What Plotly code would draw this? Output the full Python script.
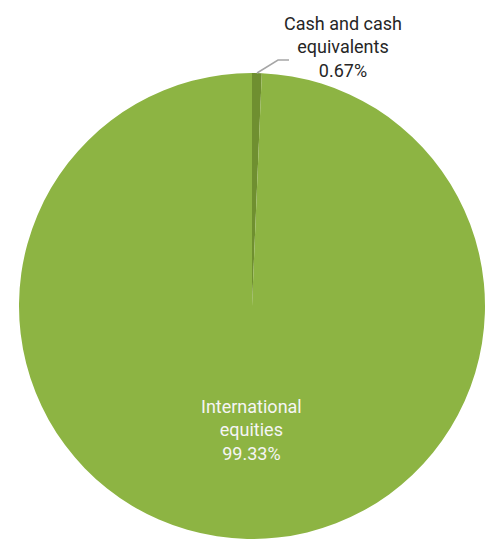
import plotly.graph_objects as go

labels = ["Cash and cash<br>equivalents", "International<br>equities"]
values = [0.67, 99.33]
colors = ["#6F8F30", "#8DB443"]

W, H = 487, 539
cx, r = 252, 233

fig = go.Figure()
fig.add_trace(go.Pie(
    labels=labels,
    values=values,
    sort=False,
    direction="clockwise",
    rotation=0,
    marker=dict(colors=colors, line=dict(width=0)),
    textinfo="none",
    hoverinfo="label+percent",
    showlegend=False,
    domain=dict(x=[(cx - r) / W, (cx + r) / W], y=[0, 2 * r / H]),
))

texts = [f"{l}<br>{v:.2f}%" for l, v in zip(labels, values)]

fig.add_annotation(
    x=343 / W, y=1 - 46.5 / H, xref="paper", yref="paper",
    xanchor="center", yanchor="middle",
    text=texts[0], showarrow=False, align="center",
    font=dict(family="Roboto", size=18, color="#262626"),
)
fig.add_annotation(
    x=251 / W, y=1 - 430 / H, xref="paper", yref="paper",
    xanchor="center", yanchor="middle",
    text=texts[1], showarrow=False, align="center",
    font=dict(family="Roboto", size=18, color="#F5F5F5"),
)

# leader line
fig.add_shape(
    type="path", xref="paper", yref="paper",
    path=f"M {257/W} {1-73/H} L {278/W} {1-60/H} L {289/W} {1-60/H}",
    line=dict(color="#A6A6A6", width=1.5),
)

fig.update_layout(
    width=W, height=H,
    margin=dict(l=0, r=0, t=0, b=0),
    paper_bgcolor="white",
    plot_bgcolor="white",
)
fig.write_html(
    "out.html",
    config={"displayModeBar": False},
    post_script="document.body.style.margin='0';document.body.style.overflow='hidden';",
)
